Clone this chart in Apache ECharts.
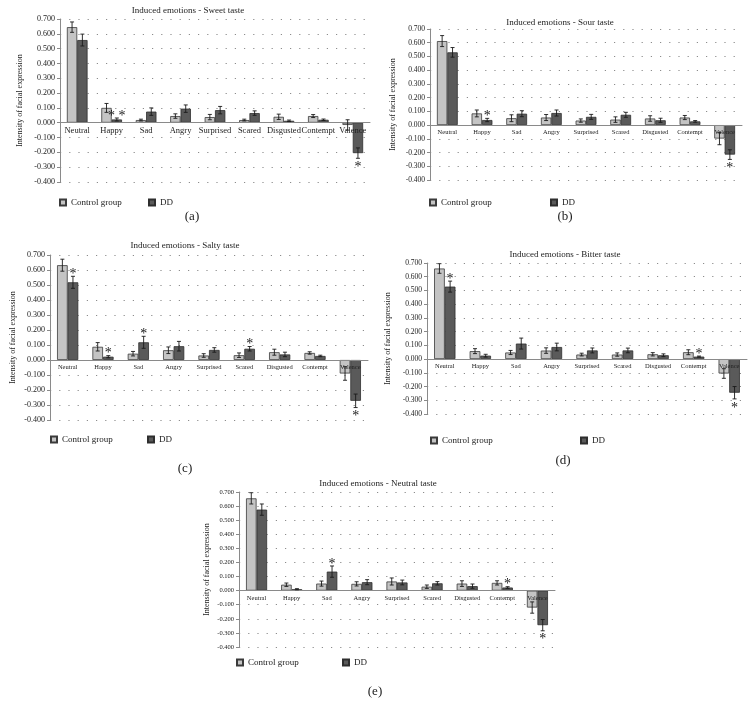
<!DOCTYPE html>
<html>
<head>
<meta charset="utf-8">
<script src="https://cdn.jsdelivr.net/npm/echarts@6/dist/echarts.min.js"></script>
<style>
  html, body { margin: 0; padding: 0; background: #fff; }
  #main { width: 756px; height: 709px; }
</style>
</head>
<body>
<div id="main"></div>
<script>
const categories = ['Neutral', 'Happy', 'Sad', 'Angry', 'Surprised', 'Scared', 'Disgusted', 'Contempt', 'Valence']
const yTicks = [-0.4, -0.3, -0.2, -0.1, 0, 0.1, 0.2, 0.3, 0.4, 0.5, 0.6, 0.7]
const yStep = 0.1

// sweet taste
const sweetControl = [0.645, 0.100, 0.018, 0.045, 0.038, 0.018, 0.040, 0.045, -0.015]
const sweetControlErr = [0.035, 0.030, 0.006, 0.015, 0.018, 0.006, 0.018, 0.010, 0.035]
const sweetDD = [0.558, 0.022, 0.075, 0.095, 0.085, 0.065, 0.013, 0.020, -0.205]
const sweetDDErr = [0.040, 0.010, 0.025, 0.025, 0.025, 0.015, 0.005, 0.005, 0.035]
const sweetStars = ['', '* *', '', '', '', '', '', '', '*']

// sour taste
const sourControl = [0.612, 0.085, 0.050, 0.055, 0.033, 0.040, 0.048, 0.055, -0.098]
const sourControlErr = [0.040, 0.025, 0.025, 0.022, 0.012, 0.020, 0.020, 0.015, 0.045]
const sourDD = [0.530, 0.037, 0.083, 0.088, 0.060, 0.075, 0.035, 0.027, -0.215]
const sourDDErr = [0.035, 0.012, 0.022, 0.022, 0.018, 0.018, 0.015, 0.006, 0.035]
const sourStars = ['', '*', '', '', '', '', '', '', '*']

// salty taste
const saltyControl = [0.632, 0.088, 0.042, 0.065, 0.030, 0.032, 0.052, 0.047, -0.090]
const saltyControlErr = [0.040, 0.028, 0.015, 0.022, 0.012, 0.015, 0.020, 0.008, 0.045]
const saltyDD = [0.518, 0.022, 0.118, 0.092, 0.067, 0.075, 0.037, 0.027, -0.272]
const saltyDDErr = [0.040, 0.007, 0.040, 0.032, 0.015, 0.015, 0.015, 0.005, 0.045]
const saltyStars = ['*', '*', '*', '', '', '*', '', '', '*']

// bitter taste
const bitterControl = [0.660, 0.058, 0.048, 0.062, 0.033, 0.033, 0.035, 0.050, -0.105]
const bitterControlErr = [0.035, 0.018, 0.015, 0.020, 0.010, 0.012, 0.012, 0.018, 0.035]
const bitterDD = [0.528, 0.025, 0.113, 0.088, 0.063, 0.063, 0.028, 0.018, -0.245]
const bitterDDErr = [0.040, 0.010, 0.040, 0.028, 0.018, 0.017, 0.010, 0.004, 0.045]
const bitterStars = ['*', '', '', '', '', '', '', '*', '*']

// neutral taste
const neutralControl = [0.655, 0.042, 0.050, 0.048, 0.065, 0.028, 0.050, 0.055, -0.120]
const neutralControlErr = [0.040, 0.012, 0.018, 0.015, 0.025, 0.012, 0.020, 0.015, 0.040]
const neutralDD = [0.575, 0.010, 0.135, 0.060, 0.058, 0.052, 0.032, 0.022, -0.245]
const neutralDDErr = [0.040, 0.004, 0.040, 0.018, 0.017, 0.012, 0.015, 0.006, 0.040]
const neutralStars = ['', '', '*', '', '', '', '', '*', '*']

const font = 'Liberation Serif'

// layout of each panel
const panels = [
  { title: 'Induced emotions - Sweet taste', letter: '(a)', grid: [60, 19, 310, 163], titleXY: [188, 6], letterXY: [192, 210],
    nameGap: 36, catFont: 8.5, tickFont: 8, legend: [[59, 198], [148, 198]],
    c: sweetControl, ce: sweetControlErr, d: sweetDD, de: sweetDDErr, s: sweetStars },
  { title: 'Induced emotions - Sour taste', letter: '(b)', grid: [430, 29, 312, 151], titleXY: [560, 18], letterXY: [565, 210],
    nameGap: 33, catFont: 6.5, tickFont: 7.5, legend: [[429, 198], [550, 198]],
    c: sourControl, ce: sourControlErr, d: sourDD, de: sourDDErr, s: sourStars },
  { title: 'Induced emotions - Salty taste', letter: '(c)', grid: [50, 255, 318, 165], titleXY: [185, 241], letterXY: [185, 462],
    nameGap: 33, catFont: 6.5, tickFont: 8, legend: [[50, 435], [147, 435]],
    c: saltyControl, ce: saltyControlErr, d: saltyDD, de: saltyDDErr, s: saltyStars },
  { title: 'Induced emotions - Bitter taste', letter: '(d)', grid: [427, 263, 320, 151], titleXY: [565, 250], letterXY: [563, 454],
    nameGap: 35, catFont: 6.5, tickFont: 7.5, legend: [[430, 436], [580, 436]],
    c: bitterControl, ce: bitterControlErr, d: bitterDD, de: bitterDDErr, s: bitterStars },
  { title: 'Induced emotions - Neutral taste', letter: '(e)', grid: [239, 492, 316, 155], titleXY: [378, 479], letterXY: [375, 685],
    nameGap: 28, catFont: 6.5, tickFont: 6.5, legend: [[236, 658], [342, 658]],
    c: neutralControl, ce: neutralControlErr, d: neutralDD, de: neutralDDErr, s: neutralStars }
]

const myChart = echarts.init(document.getElementById('main'))

// 误差线
function errorBars(side) {
  return function (params, api) {
    const i = api.value(0)
    const v = api.value(1)
    const e = api.value(2)
    const band = api.size([1, 0])[0]
    const cx = api.coord([i, 0])[0] + side * band * 0.15
    const top = api.coord([i, v + e])[1]
    const bot = api.coord([i, v - e])[1]
    const st = { stroke: '#1a1a1a', lineWidth: 0.9 }
    return {
      type: 'group',
      children: [
        { type: 'line', shape: { x1: cx, y1: top, x2: cx, y2: bot }, style: st },
        { type: 'line', shape: { x1: cx - 2, y1: top, x2: cx + 2, y2: top }, style: st },
        { type: 'line', shape: { x1: cx - 2, y1: bot, x2: cx + 2, y2: bot }, style: st }
      ]
    }
  }
}

// 星号 (显著性)
function starMarks(stars) {
  return function (params, api) {
    const text = stars[params.dataIndex]
    if (!text) return
    const i = api.value(0)
    const v = api.value(1)
    const e = api.value(2)
    const band = api.size([1, 0])[0]
    const cx = api.coord([i, 0])[0] + band * 0.15
    const y = v >= 0 ? api.coord([i, v + e])[1] - 2 : api.coord([i, v - e])[1] + 9
    return {
      type: 'text',
      style: { text: text, x: cx, y: y, align: 'center', verticalAlign: 'middle', font: '14px "' + font + '"', fill: '#1a1a1a' }
    }
  }
}

const option = {
  animation: false,
  backgroundColor: '#fff',
  title: [],
  legend: [],
  grid: [],
  xAxis: [],
  yAxis: [],
  series: []
}

const yMin = yTicks[0]
const yMax = yTicks[yTicks.length - 1]

panels.forEach(function (p, k) {
  option.title.push({
    text: p.title, left: p.titleXY[0], top: p.titleXY[1], textAlign: 'center', padding: 0,
    textStyle: { fontSize: 9, fontWeight: 'normal', fontFamily: font, color: '#222' }
  })
  option.title.push({
    text: p.letter, left: p.letterXY[0], top: p.letterXY[1], textAlign: 'center', padding: 0,
    textStyle: { fontSize: 13, fontWeight: 'normal', fontFamily: font, color: '#222' }
  })
  const legendStyle = { fontSize: 9, fontFamily: font, color: '#222' }
  option.legend.push({ data: ['Control group'], left: p.legend[0][0], top: p.legend[0][1], padding: 0,
    itemWidth: 6, itemHeight: 6, itemGap: 3, icon: 'rect', textStyle: legendStyle, selectedMode: false })
  option.legend.push({ data: ['DD'], left: p.legend[1][0], top: p.legend[1][1], padding: 0,
    itemWidth: 6, itemHeight: 6, itemGap: 3, icon: 'rect', textStyle: legendStyle, selectedMode: false })

  option.grid.push({ left: p.grid[0], top: p.grid[1], width: p.grid[2], height: p.grid[3], containLabel: false })
  // x轴放在零线上, 标签画在柱子上面
  const zeroOffset = -p.grid[3] * (0 - yMin) / (yMax - yMin)
  option.xAxis.push({
    type: 'category', gridIndex: k, data: categories, position: 'bottom', offset: zeroOffset, z: 4,
    axisTick: { show: false },
    axisLine: { onZero: false, lineStyle: { color: '#8a8a8a', width: 1 } },
    axisLabel: { interval: 0, fontSize: p.catFont, fontFamily: font, color: '#222', margin: 4 }
  })
  option.yAxis.push({
    type: 'value', gridIndex: k,
    min: yMin, max: yMax, interval: yStep,
    name: 'Intensity of facial expression', nameLocation: 'middle', nameGap: p.nameGap,
    nameTextStyle: { fontSize: 8, fontFamily: font, color: '#222' },
    axisLine: { show: true, lineStyle: { color: '#8a8a8a', width: 1 } },
    axisTick: { show: true, length: 3, lineStyle: { color: '#8a8a8a' } },
    axisLabel: { fontSize: p.tickFont, fontFamily: font, color: '#222', margin: 5,
      formatter: function (v) { return v.toFixed(3) } },
    splitLine: { show: true, lineStyle: { color: '#8c8c8c', width: 1, type: [1.2, 8] } }
  })

  const barBase = { type: 'bar', xAxisIndex: k, yAxisIndex: k, barWidth: '30%', barGap: '0%' }
  option.series.push(Object.assign({}, barBase, {
    name: 'Control group', data: p.c,
    itemStyle: { color: '#c4c4c4', borderColor: '#3a3a3a', borderWidth: 0.8 }
  }))
  option.series.push(Object.assign({}, barBase, {
    name: 'DD', data: p.d,
    itemStyle: { color: '#5a5a5a', borderColor: '#2e2e2e', borderWidth: 0.8 }
  }))
  option.series.push({
    type: 'custom', xAxisIndex: k, yAxisIndex: k, z: 5, renderItem: errorBars(-1),
    data: p.c.map(function (v, i) { return [i, v, p.ce[i]] })
  })
  option.series.push({
    type: 'custom', xAxisIndex: k, yAxisIndex: k, z: 5, renderItem: errorBars(1),
    data: p.d.map(function (v, i) { return [i, v, p.de[i]] })
  })
  option.series.push({
    type: 'custom', xAxisIndex: k, yAxisIndex: k, z: 6, renderItem: starMarks(p.s),
    data: p.d.map(function (v, i) { return [i, v, p.de[i]] })
  })
})

// 使用刚指定的配置项和数据显示图表。
myChart.setOption(option)
</script>
</body>
</html>
